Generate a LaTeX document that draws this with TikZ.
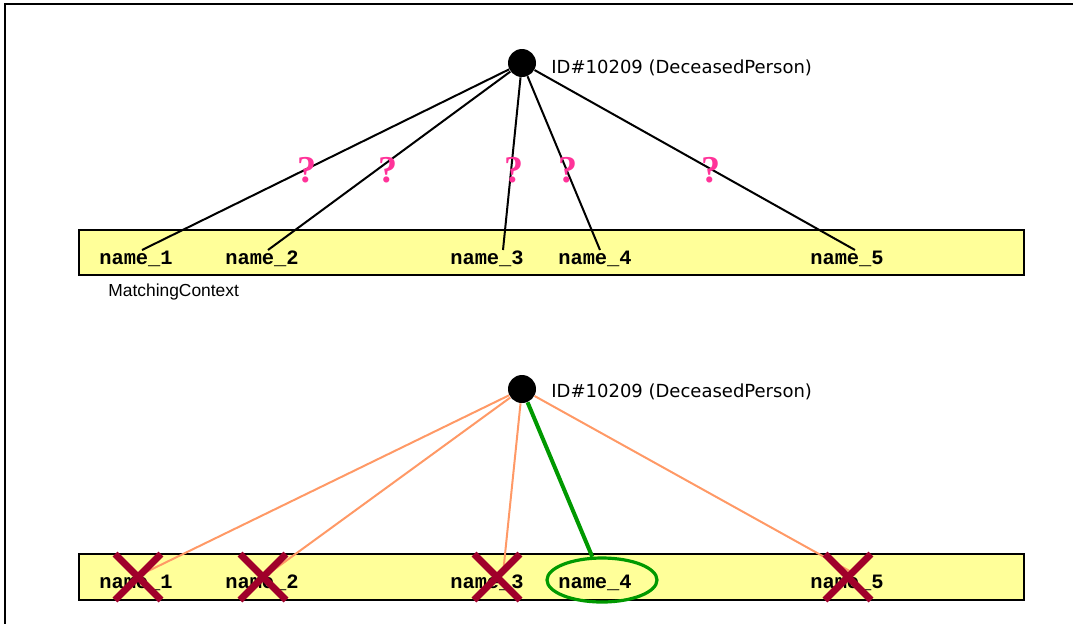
\documentclass[tikz,border=0pt]{standalone}
\usepackage{fontspec}
\setmainfont{DejaVu Sans}
\newfontfamily\namefont{Liberation Mono}
\newfontfamily\ctxfont{Liberation Sans}
\newfontfamily\qfont{Liberation Serif}
\usetikzlibrary{positioning}
\usetikzlibrary{shapes.geometric}

\definecolor{bar}{HTML}{FFFF99}
\definecolor{quest}{HTML}{FF3399}
\definecolor{rejected}{HTML}{FF9966}
\definecolor{chosen}{HTML}{009900}
\definecolor{cross}{HTML}{A0002A}

\begin{document}
\begin{tikzpicture}
  [x = 0.5pt, y = -0.5pt,
   person/.style = {circle, fill, minimum size = 14pt, inner sep = 0pt},
   idlabel/.style = {anchor = west, inner sep = 0pt, font = \fontsize{9}{11}\selectfont},
   namebox/.style = {inner sep = 0pt, font = \namefont\bfseries\fontsize{10.2}{12}\selectfont},
   quest/.style = {text = quest, inner sep = 0pt, font = \qfont\bfseries\fontsize{19}{19}\selectfont}]
  \useasboundingbox (0, 0) rectangle (1073, 623);
  \clip (0, 0) rectangle (1073, 623);
  \draw [line width = 1pt] (5, 700) |- (1100, 4);

  % top: unresolved
  \draw [fill = bar, line width = 1pt] (79, 230) rectangle (1024, 275);
  \node [person] (p1) at (522, 63) {};
  \node [idlabel] (id1) at (551, 68) {ID\#10209 (DeceasedPerson)};

  \coordinate (a1) at (142, 250);
  \coordinate (a2) at (268, 250);
  \coordinate (a3) at (503, 250);
  \coordinate (a4) at (600, 250);
  \coordinate (a5) at (855, 250);
  \foreach \i in {1, ..., 5}
    \draw [line width = 1pt] (p1) -- (a\i);

  \node [namebox] (n1) at (136, 259) {name\_1};
  \node [namebox] (n2) at (262, 259) {name\_2};
  \node [namebox] (n3) at (487, 259) {name\_3};
  \node [namebox] (n4) at (595, 259) {name\_4};
  \node [namebox] (n5) at (847, 259) {name\_5};
  \node [inner sep = 0pt, anchor = west, font = \ctxfont\fontsize{8.7}{10}\selectfont] (ctx) at (108, 292) {MatchingContext};

  \node [quest] (q1) at (307, 170) {?};
  \node [quest] (q2) at (388, 170) {?};
  \node [quest] (q3) at (514, 170) {?};
  \node [quest] (q4) at (568, 170) {?};
  \node [quest] (q5) at (711, 170) {?};

  % bottom: resolved
  \draw [fill = bar, line width = 1pt] (79, 554) rectangle (1024, 600);
  \node [person] (p2) at (522, 389) {};
  \node [idlabel] (id2) at (551, 392) {ID\#10209 (DeceasedPerson)};

  \coordinate (b1) at (142, 574);
  \coordinate (b2) at (268, 574);
  \coordinate (b3) at (503, 574);
  \coordinate (b5) at (855, 574);
  \foreach \i in {1, 2, 3, 5}
    \draw [rejected, line width = 1pt] (p2) -- (b\i);

  \node [namebox] (m1) at (136, 583) {name\_1};
  \node [namebox] (m2) at (262, 583) {name\_2};
  \node [namebox] (m3) at (487, 583) {name\_3};
  \node [namebox] (m4) at (595, 583) {name\_4};
  \node [namebox] (m5) at (847, 583) {name\_5};

  \node [ellipse, draw = chosen, line width = 1.6pt, minimum width = 55pt, minimum height = 22pt] (sel) at (602, 580) {};
  \draw [chosen, line width = 2pt] (p2) -- (sel);

  \foreach \x in {138, 263, 497, 848}
    \draw [cross, line width = 3.5pt] (\x-23, 554) -- (\x+23, 600) (\x-23, 600) -- (\x+23, 554);
\end{tikzpicture}
\end{document}
